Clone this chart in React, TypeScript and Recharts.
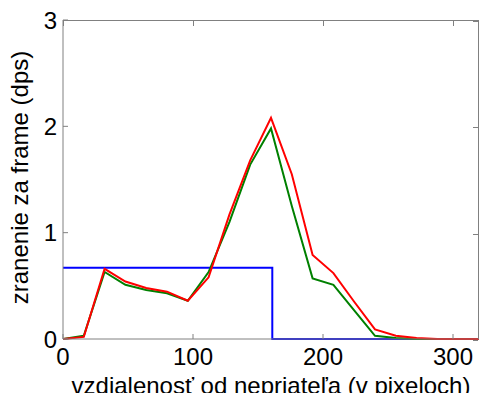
import { LineChart, Line, XAxis, YAxis, CartesianGrid } from "recharts";

// vzdialenosť (px)
const distances = [0, 16, 32, 48, 64, 80, 96, 112, 128, 144, 160, 176, 192, 208, 224, 240, 256, 272, 288, 304, 320];
const greenDps = [0, 0.03, 0.63, 0.51, 0.46, 0.43, 0.36, 0.63, 1.1, 1.64, 1.98, 1.25, 0.57, 0.51, 0.27, 0.03, 0.01, 0, 0, 0, 0];
const redDps = [0, 0.02, 0.66, 0.54, 0.48, 0.445, 0.36, 0.58, 1.17, 1.68, 2.08, 1.55, 0.79, 0.62, 0.35, 0.09, 0.03, 0.01, 0, 0, 0];

// modrá: skok v bode 161
const blueX = [0, 161, 161, 320];
const blueY = [0.67, 0.67, 0, 0];

const xTicks = [0, 100, 200, 300];
const yTicks = [0, 1, 2, 3];
const xMax = 320;
const yMax = 3;

const data = distances.map((x, i) => ({ x, green: greenDps[i], red: redDps[i] }));
const blueData = blueX.map((x, i) => ({ x, blue: blueY[i] }));

const font = "'Liberation Sans', Arial, sans-serif";
const axisColor = "#808080";
const fontSize = 24;
const tickFont = { fill: "#000", fontSize, fontFamily: font };

// rozmery grafu
const W = 492;
const H = 401;
const margin = { top: 20, right: 13, bottom: 0, left: 0 };
const yAxisW = 63;
const xAxisH = 62;
const plotX = margin.left + yAxisW;
const plotY = margin.top;
const plotW = W - plotX - margin.right;
const plotH = H - plotY - xAxisH;

export default function App() {
  return (
    <div style={{ position: "relative", margin: -8, width: W, height: H, background: "#fff" }}>
      <LineChart width={W} height={H} data={data} margin={margin}>
        {/* rám: iba horný a pravý okraj */}
        <CartesianGrid
          stroke={axisColor}
          horizontalCoordinatesGenerator={() => [plotY + 0.5]}
          verticalCoordinatesGenerator={() => [plotX + plotW - 0.5]}
        />
        <XAxis
          dataKey="x"
          type="number"
          domain={[0, xMax]}
          ticks={xTicks}
          allowDataOverflow
          height={xAxisH}
          stroke={axisColor}
          tickSize={-5}
          tickMargin={14}
          tick={tickFont}
          label={{ value: "vzdialenosť od nepriateľa (v pixeloch)", position: "center", dy: 15, fill: "#000", fontSize, fontFamily: font }}
        />
        <YAxis
          type="number"
          domain={[0, yMax]}
          ticks={yTicks}
          width={yAxisW}
          stroke={axisColor}
          tickSize={-5}
          tickMargin={11}
          tick={tickFont}
          label={{ value: "zranenie za frame (dps)", angle: -90, position: "center", dx: -12, dy: -2, fill: "#000", fontSize, fontFamily: font }}
        />
        <Line data={blueData} dataKey="blue" stroke="#0000ff" strokeWidth={2} dot={false} isAnimationActive={false} />
        <Line dataKey="green" stroke="#008000" strokeWidth={2} dot={false} isAnimationActive={false} />
        <Line dataKey="red" stroke="#ff0000" strokeWidth={2} dot={false} isAnimationActive={false} />
      </LineChart>
      {/* horný a pravý okraj s tickmi dovnútra */}
      <div
        style={{
          position: "absolute",
          left: plotX,
          top: plotY,
          width: plotW,
          height: plotH,
          borderTop: `1px solid ${axisColor}`,
          borderRight: `1px solid ${axisColor}`,
          boxSizing: "border-box",
          pointerEvents: "none",
        }}
      >
        {xTicks.map((t) => (
          <div key={`tx${t}`} style={{ position: "absolute", left: (t / xMax) * plotW, top: 0, width: 1, height: 5, background: axisColor }} />
        ))}
        {yTicks.map((t) => (
          <div key={`ty${t}`} style={{ position: "absolute", right: 0, top: plotH - (t / yMax) * plotH, width: 5, height: 1, background: axisColor }} />
        ))}
      </div>
    </div>
  );
}
